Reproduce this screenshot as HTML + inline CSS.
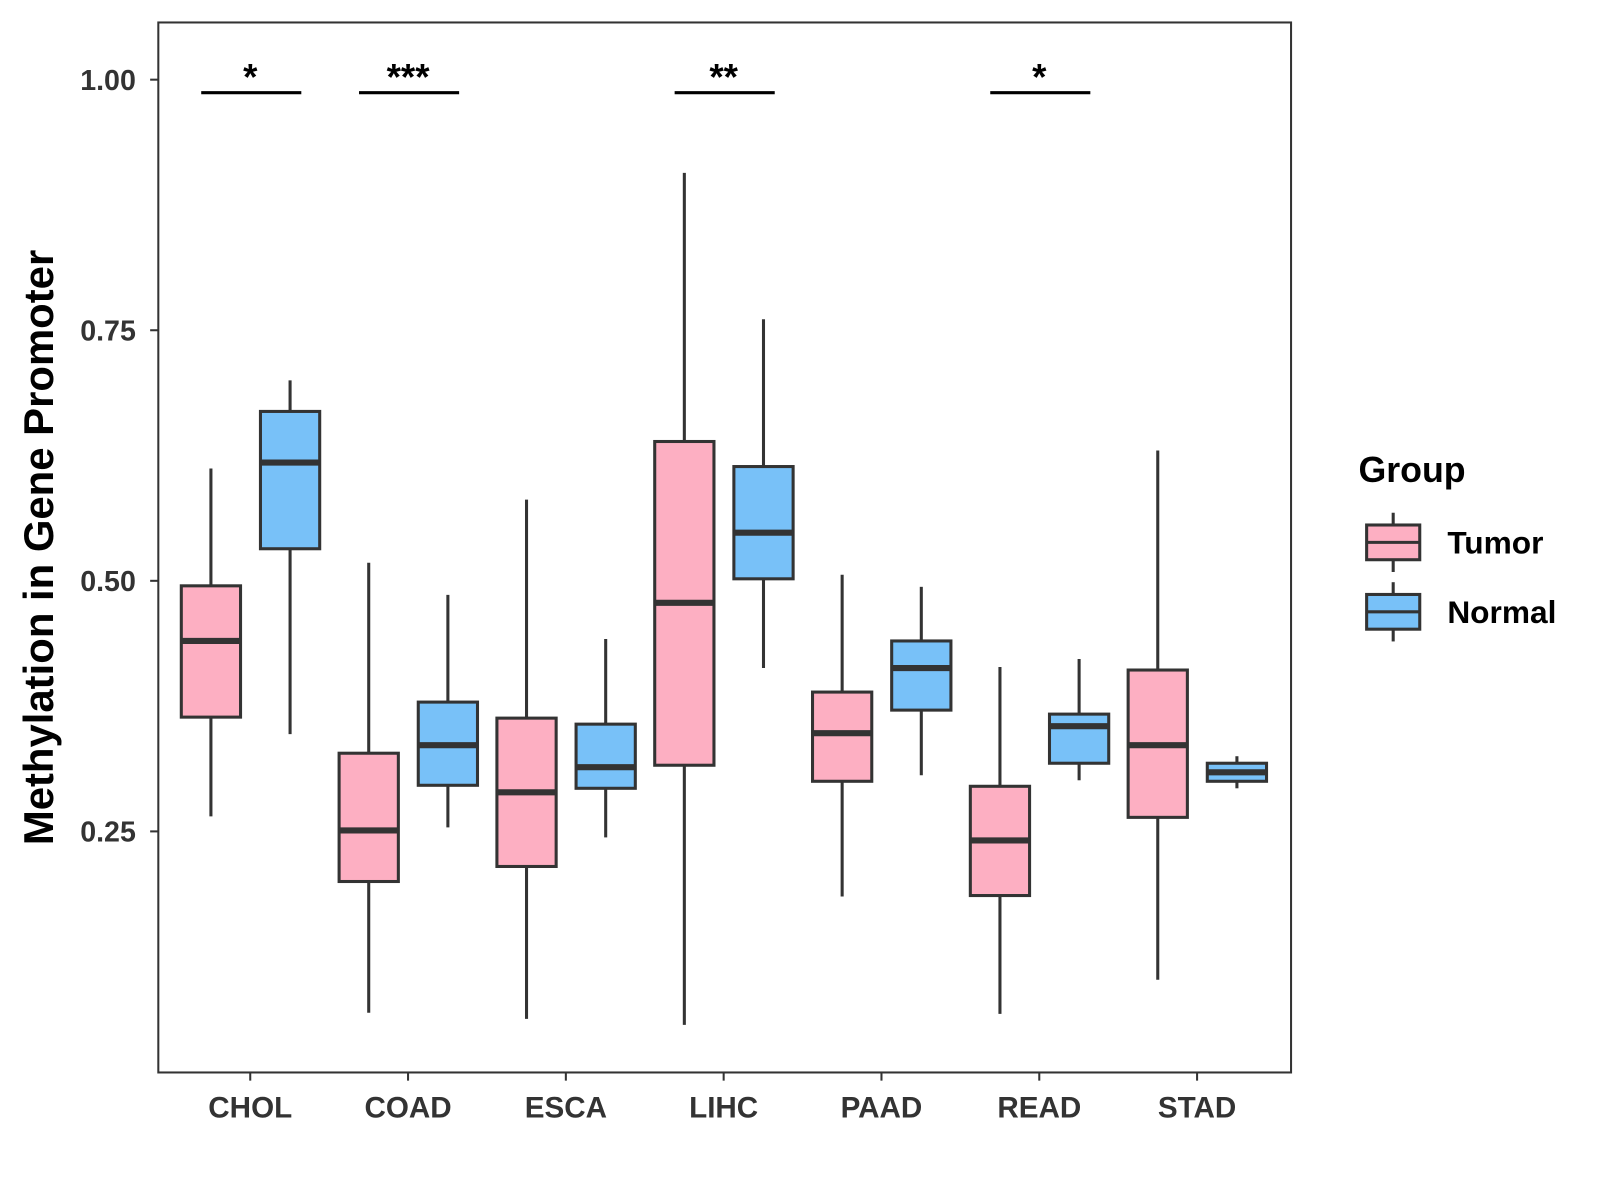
<!DOCTYPE html>
<html><head><meta charset="utf-8"><style>
html,body{margin:0;padding:0;background:#fff;}
svg{display:block;font-family:"Liberation Sans",Arial,sans-serif;}
</style></head><body>
<svg id="chart" width="1600" height="1200" viewBox="0 0 1600 1200">
<g transform="scale(1.0214)">
<rect x="155" y="22" width="1109" height="1028" fill="#fff" stroke="#333" stroke-width="2"/>
<g id="marks"></g>
<g id="axes"></g>
<text transform="translate(52,536) rotate(-90)" text-anchor="middle" font-size="41" font-weight="bold" fill="#000">Methylation in Gene Promoter</text>
<g>
<text x="1330" y="472" font-size="35" font-weight="bold">Group</text>
<g>
<line x1="1364" y1="502" x2="1364" y2="560" stroke="#333" stroke-width="3"/>
<rect x="1338" y="514" width="52" height="34" fill="#FDAFC2" stroke="#333" stroke-width="3"/>
<line x1="1338" y1="531" x2="1390" y2="531" stroke="#333" stroke-width="3"/>
<text x="1417" y="542" font-size="31" font-weight="bold">Tumor</text></g>
<g>
<line x1="1364" y1="570" x2="1364" y2="628" stroke="#333" stroke-width="3"/>
<rect x="1338" y="582" width="52" height="34" fill="#78C1F8" stroke="#333" stroke-width="3"/>
<line x1="1338" y1="599" x2="1390" y2="599" stroke="#333" stroke-width="3"/>
<text x="1417" y="610" font-size="31" font-weight="bold">Normal</text></g>
</g>
</g>
</svg>
<script>
const categories=["CHOL","COAD","ESCA","LIHC","PAAD","READ","STAD"];
// [whiskerLow, q1, median, q3, whiskerHigh]
const tumorStats=[[0.265,0.364,0.440,0.495,0.612],[0.069,0.200,0.251,0.328,0.518],[0.063,0.215,0.289,0.363,0.581],[0.057,0.316,0.478,0.639,0.907],[0.185,0.300,0.348,0.389,0.506],[0.068,0.186,0.241,0.295,0.414],[0.102,0.264,0.336,0.411,0.630]];
const normalStats=[[0.347,0.532,0.618,0.669,0.700],[0.254,0.296,0.336,0.379,0.486],[0.244,0.293,0.314,0.357,0.442],[0.413,0.502,0.548,0.614,0.761],[0.306,0.371,0.413,0.440,0.494],[0.301,0.318,0.355,0.367,0.422],[0.293,0.300,0.309,0.318,0.325]];
const yTicks=[0.25,0.50,0.75,1.00];
const yTickLabels=["0.25","0.50","0.75","1.00"];
const sigCategories=["CHOL","COAD","LIHC","READ"];
const sigLabels=["*","***","**","*"];
const sigLevel=0.987;

const NS="http://www.w3.org/2000/svg";
function y(v){return 78+(1-v)*981.3;}
function x(i){return 245+i*154.5;}
function mk(tag,attrs,parent){const e=document.createElementNS(NS,tag);for(const k in attrs)e.setAttribute(k,attrs[k]);parent.appendChild(e);return e;}
const marks=document.getElementById('marks'),axes=document.getElementById('axes');
function box(cx,s,fill,name){
  const g=mk('g',{},marks);
  
  
  const w=29;
  mk('line',{x1:cx,x2:cx,y1:y(s[4]),y2:y(s[3]),stroke:'#333','stroke-width':3},g);
  mk('line',{x1:cx,x2:cx,y1:y(s[1]),y2:y(s[0]),stroke:'#333','stroke-width':3},g);
  mk('rect',{x:cx-w,y:y(s[3]),width:2*w,height:y(s[1])-y(s[3]),fill:fill,stroke:'#333','stroke-width':3},g);
  mk('line',{x1:cx-w,x2:cx+w,y1:y(s[2]),y2:y(s[2]),stroke:'#333','stroke-width':6},g);
}
categories.forEach((c,i)=>{
  box(x(i)-38.5,tumorStats[i],'#FDAFC2','box-'+c.toLowerCase()+'-tumor');
  box(x(i)+39,normalStats[i],'#78C1F8','box-'+c.toLowerCase()+'-normal');
  mk('line',{x1:x(i),x2:x(i),y1:1050,y2:1058,stroke:'#333','stroke-width':2},axes);
  const t=mk('text',{x:x(i),y:1094,'text-anchor':'middle','font-size':29,'font-weight':'bold',fill:'#333'},axes);
  
  
  t.textContent=c;
});
yTicks.forEach((v,i)=>{
  mk('line',{x1:147,x2:155,y1:y(v),y2:y(v),stroke:'#333','stroke-width':2},axes);
  const t=mk('text',{x:133,y:y(v)+10,'text-anchor':'end','font-size':28,'font-weight':'bold',fill:'#333'},axes);
  
  
  t.textContent=yTickLabels[i];
});
sigCategories.forEach((c,k)=>{
  const i=categories.indexOf(c);
  const g=mk('g',{},marks);
  
  
  mk('line',{x1:x(i)-48,x2:x(i)+50,y1:y(sigLevel),y2:y(sigLevel),stroke:'#000','stroke-width':3},g);
  const t=mk('text',{x:x(i),y:y(sigLevel)-3,'text-anchor':'middle','font-size':36,'font-weight':'bold',fill:'#000'},g);
  t.textContent=sigLabels[k];
});
</script>
</body></html>
